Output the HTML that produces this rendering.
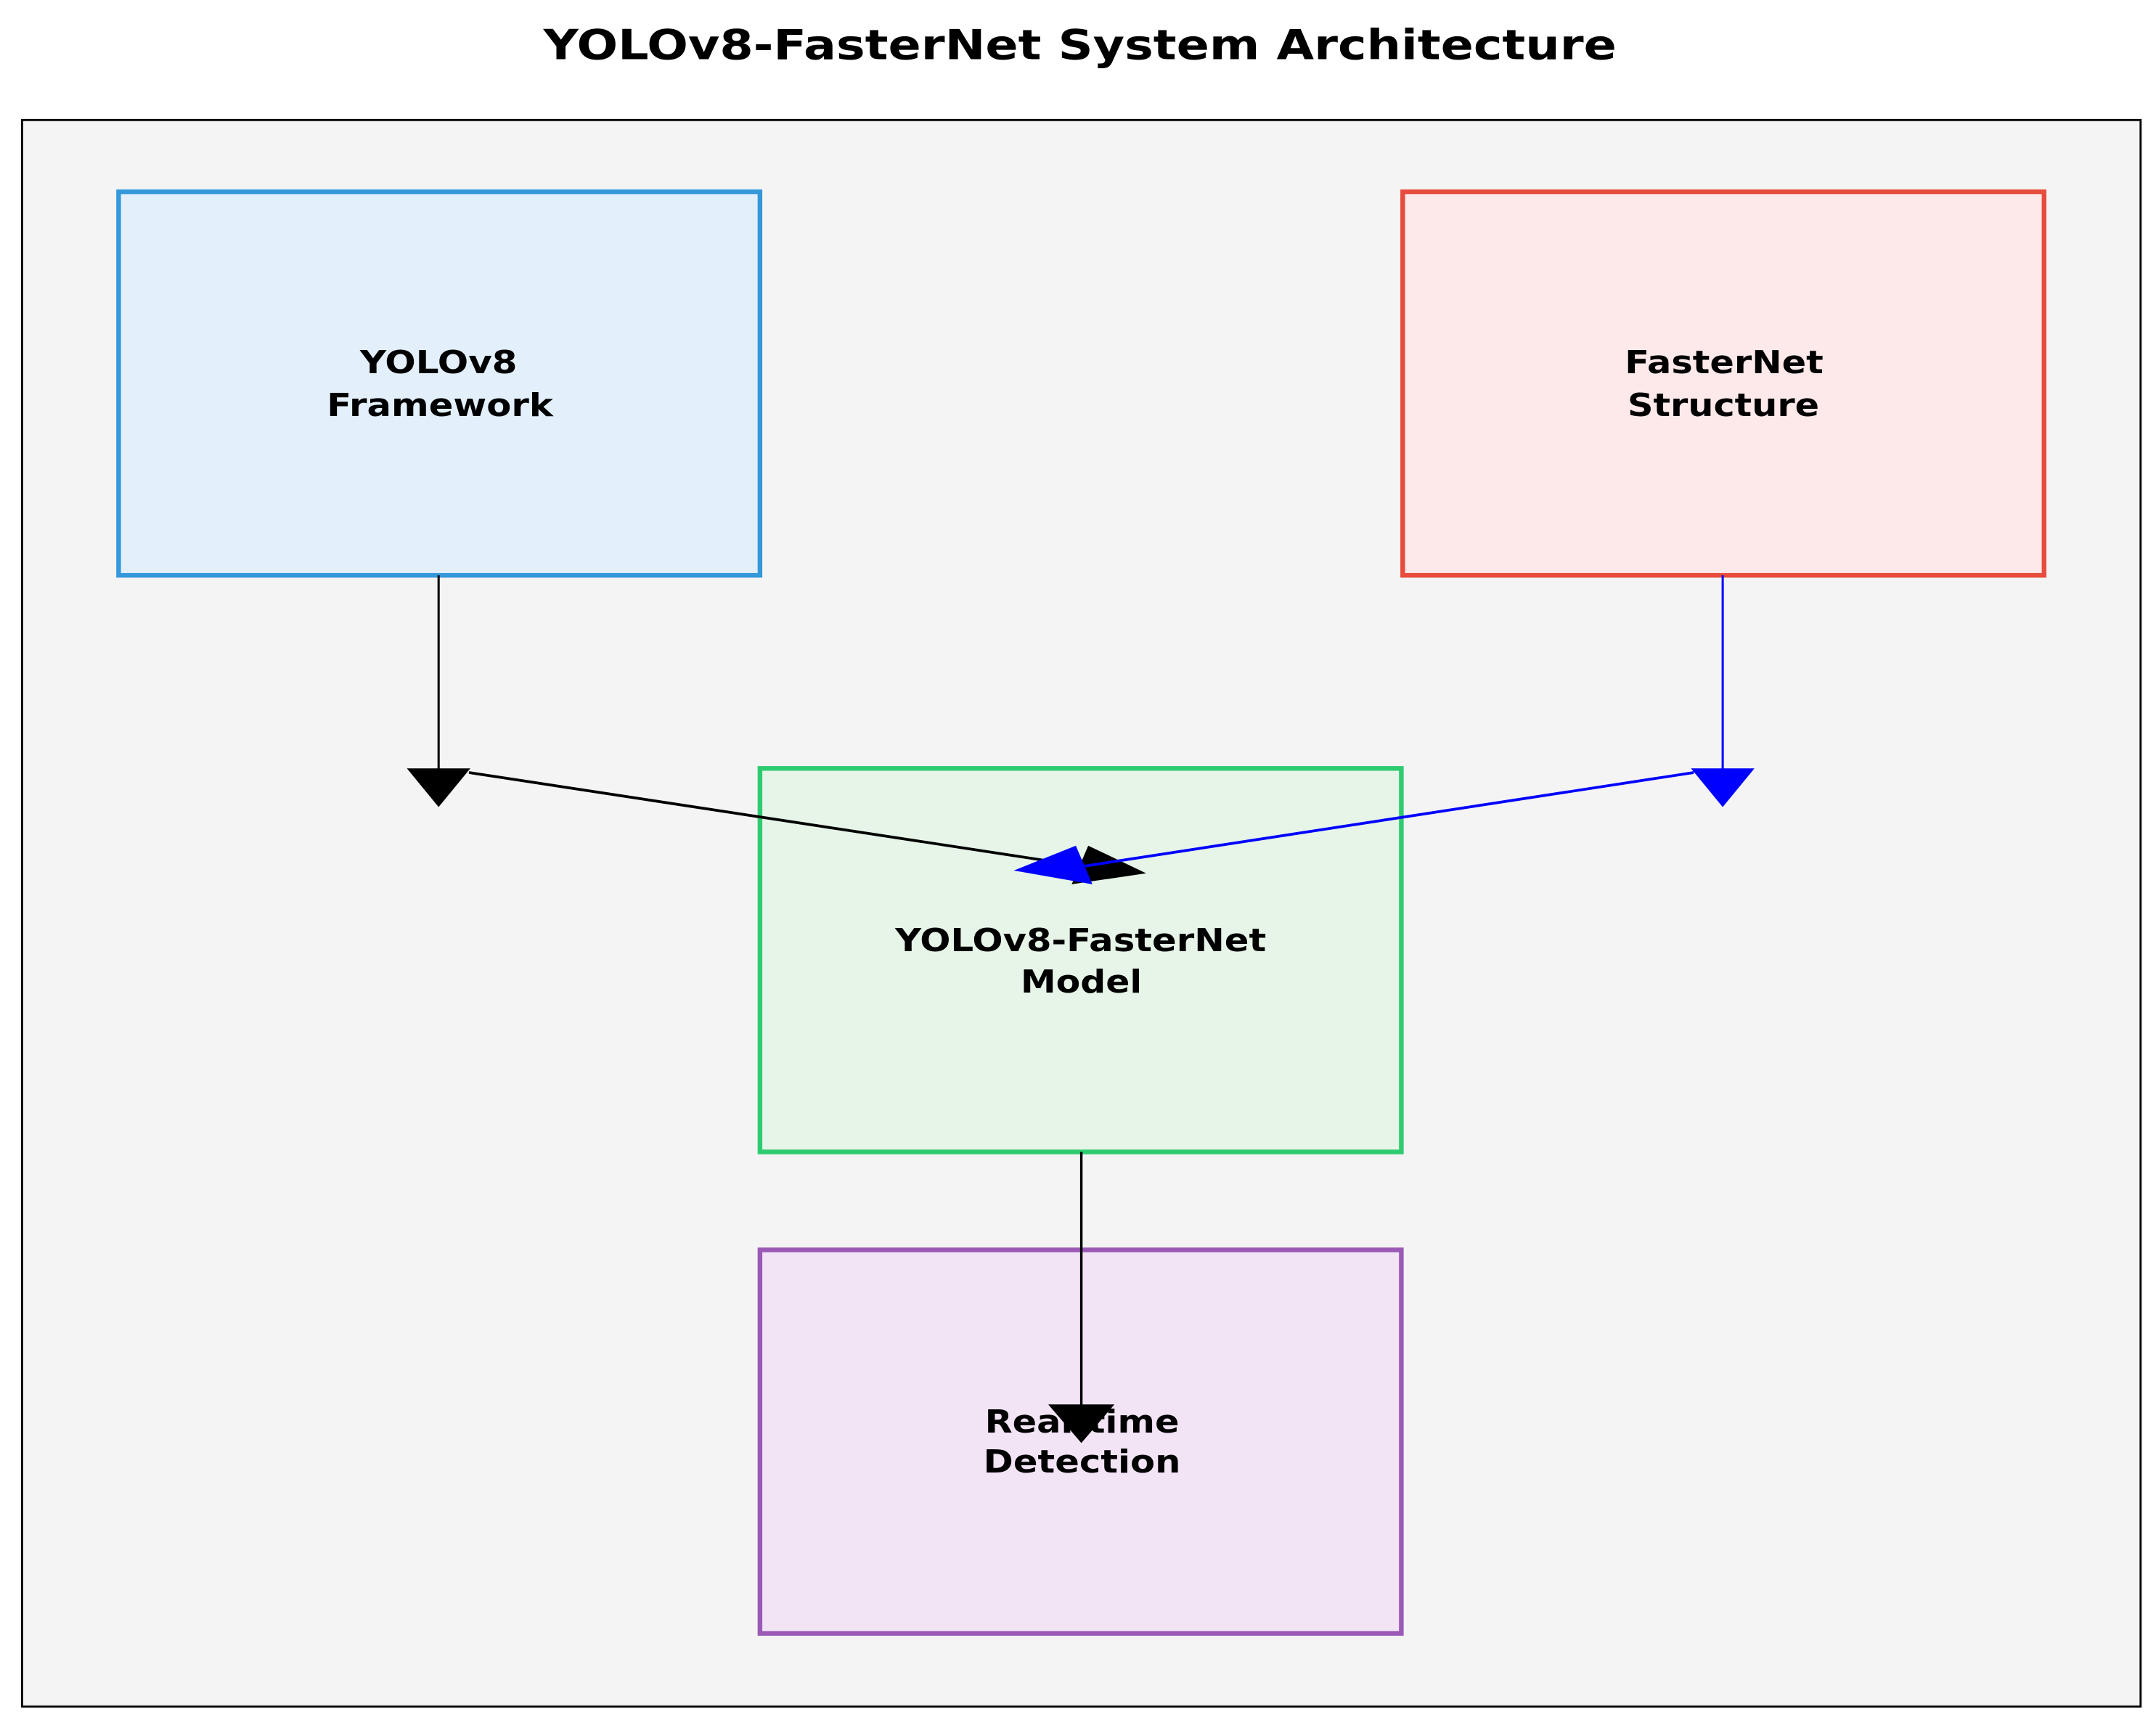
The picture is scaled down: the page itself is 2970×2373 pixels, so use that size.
<!DOCTYPE html>
<html><head><meta charset="utf-8"><style>html,body{margin:0;padding:0;background:#fff}svg{display:block}</style></head>
<body>
<svg width="2970" height="2373" viewBox="0 0 1563.16 1248.95" xmlns="http://www.w3.org/2000/svg" font-family="DejaVu Sans, Liberation Sans, sans-serif" font-weight="bold">
<text x="783" y="43" font-size="30" text-anchor="middle" textLength="778" lengthAdjust="spacingAndGlyphs">YOLOv8-FasterNet System Architecture</text>
<rect x="16" y="87" width="1536" height="1150" fill="#f4f4f4" stroke="#000" stroke-width="1.5"/>
<rect x="86" y="139" width="465" height="278" fill="#e3f0fb" stroke="#3498db" stroke-width="3.4"/>
<rect x="1017" y="139" width="465" height="278" fill="#fde9ea" stroke="#e74c3c" stroke-width="3.4"/>
<rect x="551" y="557" width="465" height="278" fill="#e6f5e8" stroke="#2ecc71" stroke-width="3.4"/>
<rect x="551" y="906" width="465" height="278" fill="#f2e4f5" stroke="#9b59b6" stroke-width="3.4"/>
<g font-size="23" text-anchor="middle">
<text x="318" y="270.5" textLength="114" lengthAdjust="spacingAndGlyphs">YOLOv8</text>
<text x="319" y="301.5" textLength="164" lengthAdjust="spacingAndGlyphs">Framework</text>
<text x="1250" y="270.5" textLength="144" lengthAdjust="spacingAndGlyphs">FasterNet</text>
<text x="1249.5" y="301.5" textLength="139" lengthAdjust="spacingAndGlyphs">Structure</text>
<text x="783.5" y="689.5" textLength="269" lengthAdjust="spacingAndGlyphs">YOLOv8-FasterNet</text>
<text x="784" y="719.5" textLength="88" lengthAdjust="spacingAndGlyphs">Model</text>
<text x="784.5" y="1038.5" textLength="141" lengthAdjust="spacingAndGlyphs">Real-time</text>
<text x="784.5" y="1067.5" textLength="143" lengthAdjust="spacingAndGlyphs">Detection</text>
</g>
<line x1="318" y1="417" x2="318" y2="558" stroke="#000" stroke-width="1.6"/>
<polygon points="295,557 341,557 318,585" fill="#000"/>
<line x1="1249" y1="417" x2="1249" y2="558" stroke="#00f" stroke-width="1.6"/>
<polygon points="1226,557 1272,557 1249,585" fill="#00f"/>
<line x1="340" y1="560" x2="786" y2="628" stroke="#000" stroke-width="2"/>
<polygon points="789,613 831,633 777,641" fill="#000"/>
<line x1="1228" y1="560" x2="785" y2="628" stroke="#00f" stroke-width="2"/>
<polygon points="735,631 780,613 792,641" fill="#00f"/>
<line x1="784" y1="835" x2="784" y2="1019" stroke="#000" stroke-width="1.8"/>
<polygon points="760,1018 808,1018 784,1046" fill="#000"/>
</svg>
</body></html>
